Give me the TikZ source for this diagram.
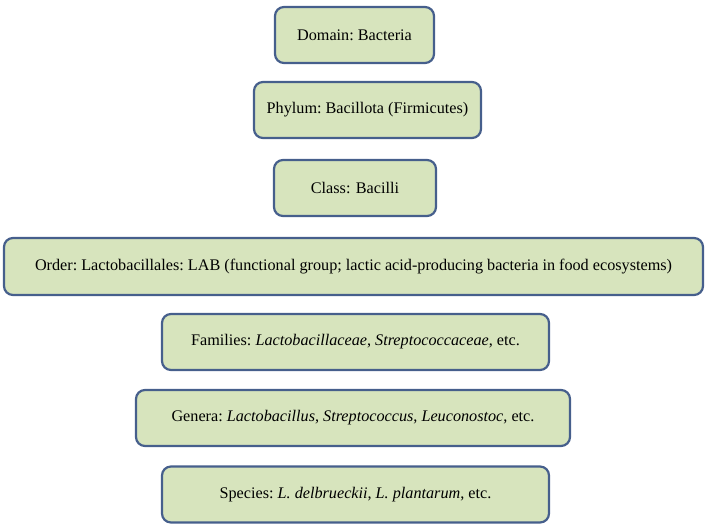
\documentclass[tikz,border=0pt]{standalone}
\usepackage{fontspec}
\setmainfont{Liberation Serif}
\definecolor{boxfill}{RGB}{215,228,189}
\definecolor{boxline}{RGB}{70,95,140}
\begin{document}
\begin{tikzpicture}[x=1pt,y=-1pt,
  taxbox/.style={draw=boxline, fill=boxfill, line width=2.2pt, rounded corners=9pt, inner sep=0pt, font=\fontsize{16.2}{19}\selectfont}]
\useasboundingbox (0,0) rectangle (709,527);
\node[taxbox, minimum width=159pt, minimum height=56pt] (domain) at (354.5,35) {Domain:\ Bacteria};
\node[taxbox, minimum width=227pt, minimum height=56pt] (phylum) at (367.5,110) {Phylum:\ Bacillota (Firmicutes)};
\node[taxbox, minimum width=162pt, minimum height=56pt] (class) at (355,188) {Class: Bacilli};
\node[taxbox, minimum width=699pt, minimum height=57pt] (order) at (353.5,266.5) {Order:\ Lactobacillales:\ LAB (functional group;\ lactic acid-producing\ bacteria in food ecosystems)};
\node[taxbox, minimum width=387pt, minimum height=56pt] (families) at (355.5,342) {Families:\ \textit{Lactobacillaceae},\ \textit{Streptococcaceae},\ etc.};
\node[taxbox, minimum width=434pt, minimum height=56pt] (genera) at (353,418) {Genera:\ \textit{Lactobacillus},\ \textit{Streptococcus},\ \textit{Leuconostoc},\ etc.};
\node[taxbox, minimum width=387pt, minimum height=56pt] (species) at (355.5,494.5) {Species:\ \textit{L. delbrueckii}, \textit{L. plantarum}, etc.};
\end{tikzpicture}
\end{document}
